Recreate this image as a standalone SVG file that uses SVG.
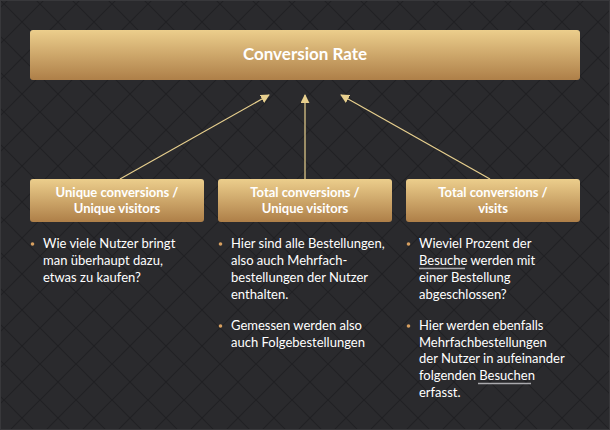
<svg xmlns="http://www.w3.org/2000/svg" width="610" height="430" viewBox="0 0 610 430">
<style>
.hd{font-family:Lato,"Liberation Sans",sans-serif;font-weight:bold;fill:#ffffff;text-anchor:middle}
.tx{font-family:Lato,"Liberation Sans",sans-serif;font-size:13px;fill:#ffffff}
.ul{stroke:#a9a9ad;stroke-width:1.5}
.cn{stroke:#e8d08e;stroke-width:1.2;fill:none}
.dot{fill:#d8a060}
</style>
<defs>
<pattern id="bgp" patternUnits="userSpaceOnUse" width="36" height="36" x="4" y="4">
<rect width="36" height="36" fill="#2a2a2d"/>
<path d="M0 0L36 36M36 0L0 36" stroke="#202023" stroke-width="1.2"/>
</pattern>
<linearGradient id="gold" x1="0" y1="0" x2="0" y2="1">
<stop offset="0" stop-color="#ecce8c"/>
<stop offset="1" stop-color="#ae7f48"/>
</linearGradient>
<marker id="ah" viewBox="0 0 10 10" refX="9" refY="5" markerWidth="9" markerHeight="9" markerUnits="userSpaceOnUse" orient="auto">
<path d="M0 0L10 5L0 10Z" fill="#e8d08e"/>
</marker>
</defs>
<rect x="0" y="0" width="610" height="430" fill="url(#bgp)"/>
<rect x="0.5" y="0.5" width="609" height="429" fill="none" stroke="#38383b"/>
<g id="connectors">
<line class="cn" x1="120" y1="179" x2="269" y2="95" marker-end="url(#ah)"/>
<line class="cn" x1="305" y1="179" x2="305" y2="95" marker-end="url(#ah)"/>
<line class="cn" x1="490" y1="179" x2="341" y2="95" marker-end="url(#ah)"/>
</g>
<g id="conversion-rate">
<rect x="30" y="30" width="550" height="50" rx="3" fill="url(#gold)"/>
<text class="hd" x="305" y="60" font-size="17">Conversion Rate</text>
</g>
<g id="unique-unique">
<rect x="30" y="179" width="174" height="43" rx="3" fill="url(#gold)"/>
<text class="hd" x="117" y="197" font-size="13">Unique conversions /</text>
<text class="hd" x="117" y="212.5" font-size="13">Unique visitors</text>
</g>
<g id="total-unique">
<rect x="218" y="179" width="174" height="43" rx="3" fill="url(#gold)"/>
<text class="hd" x="305" y="197" font-size="13">Total conversions /</text>
<text class="hd" x="305" y="212.5" font-size="13">Unique visitors</text>
</g>
<g id="total-visits">
<rect x="406" y="179" width="174" height="43" rx="3" fill="url(#gold)"/>
<text class="hd" x="493" y="197" font-size="13">Total conversions /</text>
<text class="hd" x="493" y="212.5" font-size="13">visits</text>
</g>
<g id="text-col1">
<circle class="dot" cx="32.5" cy="244" r="1.8"/>
<text class="tx" x="43" y="248">Wie viele Nutzer bringt</text>
<text class="tx" x="43" y="265">man überhaupt dazu,</text>
<text class="tx" x="43" y="281.7">etwas zu kaufen?</text>
</g>
<g id="text-col2">
<circle class="dot" cx="220.5" cy="244" r="1.8"/>
<text class="tx" x="231" y="248">Hier sind alle Bestellungen,</text>
<text class="tx" x="231" y="265">also auch Mehrfach-</text>
<text class="tx" x="231" y="281.7">bestellungen der Nutzer</text>
<text class="tx" x="231" y="298.5">enthalten.</text>
<circle class="dot" cx="220.5" cy="326" r="1.8"/>
<text class="tx" x="231" y="330">Gemessen werden also</text>
<text class="tx" x="231" y="346.7">auch Folgebestellungen</text>
</g>
<g id="text-col3">
<circle class="dot" cx="408.5" cy="244" r="1.8"/>
<text class="tx" x="419" y="248">Wieviel Prozent der</text>
<text class="tx" x="419" y="265"><tspan>Besuche</tspan> werden mit</text>
<line class="ul" x1="419" y1="268.5" x2="465" y2="268.5"/>
<text class="tx" x="419" y="281.7">einer Bestellung</text>
<text class="tx" x="419" y="298.5">abgeschlossen?</text>
<circle class="dot" cx="408.5" cy="326" r="1.8"/>
<text class="tx" x="419" y="330">Hier werden ebenfalls</text>
<text class="tx" x="419" y="346.7">Mehrfachbestellungen</text>
<text class="tx" x="419" y="363.3">der Nutzer in aufeinander</text>
<text class="tx" x="419" y="380">folgenden <tspan>Besuchen</tspan></text>
<text class="tx" x="419" y="396.7">erfasst.</text>
<line class="ul" x1="478" y1="383.5" x2="531" y2="383.5"/>
</g>
</svg>
